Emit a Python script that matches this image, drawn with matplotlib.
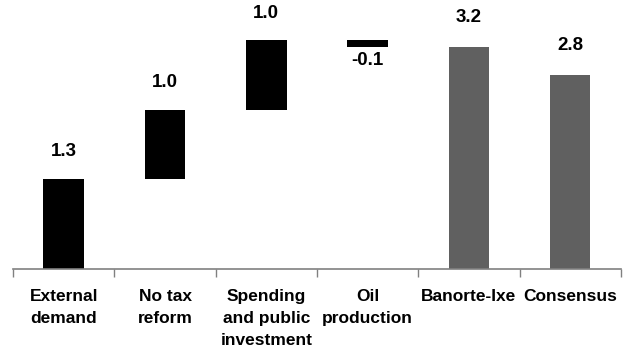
import numpy as np
import matplotlib.pyplot as plt

plt.rcParams['font.family'] = ['Liberation Sans', 'DejaVu Sans']

categories = ['External\ndemand', 'No tax\nreform', 'Spending\nand public\ninvestment',
              'Oil\nproduction', 'Banorte-Ixe', 'Consensus']
contributions = [1.3, 1.0, 1.0, -0.1]
totals = [3.2, 2.8]

# waterfall: each contribution starts where the previous one ended
bottoms = np.concatenate([[0], np.cumsum(contributions)[:-1]])
x = np.arange(len(categories))

fig = plt.figure(figsize=(6.24, 3.55), dpi=100)
ax = fig.add_axes([0.021, 0.242, 0.974, 0.758])

ax.bar(x[:4], contributions, bottom=bottoms, width=0.4, color='black')
ax.bar(x[4:], totals, width=0.4, color='#606060')

for i, (b, v) in enumerate(zip(bottoms, contributions)):
    if v >= 0:
        ax.text(i, b + v + 0.39, f'{v:.1f}', ha='center', va='center',
                fontsize=13.5, fontweight='bold')
    else:
        ax.text(i, b + v - 0.19, f'{v:.1f}', ha='center', va='center',
                fontsize=13.5, fontweight='bold')
for i, v in zip(x[4:], totals):
    ax.text(i, v + 0.43, f'{v:.1f}', ha='center', va='center',
            fontsize=13.5, fontweight='bold')

ax.set_xlim(-0.5, len(categories) - 0.5)
ax.set_ylim(0, 3.88)
ax.set_yticks([])
ax.set_xticks(np.arange(len(categories) + 1) - 0.5, minor=False)
ax.set_xticklabels([])
ax.set_xticks(x, minor=True)
ax.set_xticklabels(categories, minor=True, fontsize=12.5, fontweight='bold',
                   linespacing=1.6, va='top')
ax.tick_params(axis='x', which='major', length=6, color='#808080', width=1)
ax.tick_params(axis='x', which='minor', length=0, pad=14)

for side in ['top', 'right', 'left']:
    ax.spines[side].set_visible(False)
ax.spines['bottom'].set_color('#808080')
ax.spines['bottom'].set_linewidth(1.2)

fig.savefig('out.png', dpi=100)
